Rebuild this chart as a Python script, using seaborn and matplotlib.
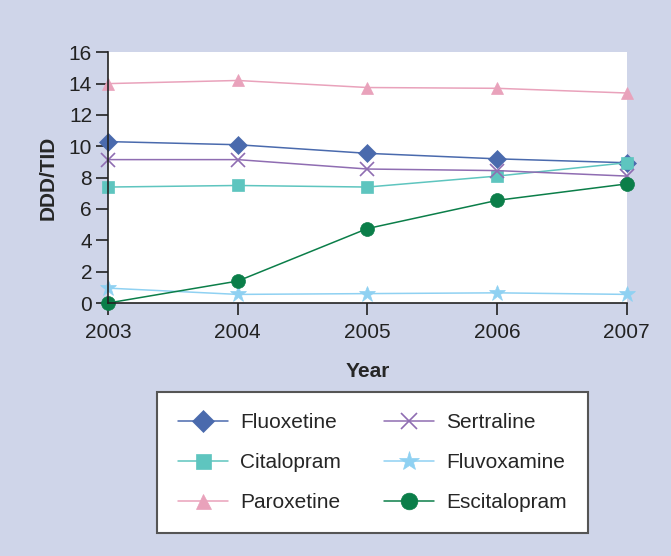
import pandas as pd
import seaborn as sns
import matplotlib
matplotlib.use('Agg')
import matplotlib.pyplot as plt

years = [2003, 2004, 2005, 2006, 2007]
fluoxetine = [10.3, 10.1, 9.55, 9.2, 8.95]
sertraline = [9.15, 9.15, 8.55, 8.45, 8.1]
citalopram = [7.4, 7.5, 7.4, 8.1, 8.95]
fluvoxamine = [0.95, 0.55, 0.6, 0.65, 0.55]
paroxetine = [14.0, 14.2, 13.75, 13.7, 13.4]
escitalopram = [0.0, 1.4, 4.75, 6.55, 7.6]

drugs = ['Fluoxetine', 'Citalopram', 'Paroxetine', 'Sertraline', 'Fluvoxamine', 'Escitalopram']
values = [fluoxetine, citalopram, paroxetine, sertraline, fluvoxamine, escitalopram]
colors = ['#4a6aad', '#5ec5bf', '#e9a2bb', '#8f6db2', '#8fd1f2', '#0b7e49']
markers = ['D', 's', '^', 'x', '*', 'o']
sizes = [9, 9, 9, 10, 12, 10]

sns.set_style('white')
plt.rcParams['font.family'] = ['Liberation Sans', 'DejaVu Sans']

fig = plt.figure(figsize=(6.71, 5.56), dpi=100)
fig.patch.set_facecolor('#cfd5e9')
ax = fig.add_axes([0.161, 0.455, 0.773, 0.451])
ax.set_facecolor('white')

for name, vals, col, mk, ms in zip(drugs, values, colors, markers, sizes):
    df = pd.DataFrame({'Year': years, 'DDD/TID': vals})
    sns.lineplot(data=df, x='Year', y='DDD/TID', ax=ax, color=col, marker=mk,
                 markersize=ms, markeredgecolor=col, markeredgewidth=1.2 if mk == 'x' else 0.5,
                 linewidth=1.1, label=name, clip_on=False, legend=False)

ax.set_xlim(2003, 2007)
ax.set_ylim(0, 16)
ax.set_xticks(years)
ax.set_yticks(range(0, 17, 2))
ax.tick_params(axis='both', direction='out', length=8.5, width=1.2, color='#222222',
               labelsize=15, colors='#222222', bottom=True, left=True, pad=3)
ax.tick_params(axis='x', pad=6)
for side in ['top', 'right']:
    ax.spines[side].set_visible(False)
for side in ['left', 'bottom']:
    ax.spines[side].set_color('#222222')
    ax.spines[side].set_linewidth(1.2)
ax.set_xlabel('Year', fontsize=15, fontweight='bold', labelpad=14)
ax.set_ylabel('DDD/TID', fontsize=15, fontweight='bold', labelpad=8)

handles, labels = ax.get_legend_handles_labels()
leg = fig.legend(handles, labels, ncol=2, loc='upper left',
                 bbox_to_anchor=(0.234, 0.043, 0.642, 0.252), mode='expand',
                 borderaxespad=0, fontsize=15, frameon=True, fancybox=False,
                 handlelength=2.4, labelspacing=1.02, columnspacing=1.7,
                 borderpad=1.0, handletextpad=0.6, markerscale=1.2)
leg.get_frame().set_edgecolor('#555555')
leg.get_frame().set_linewidth(1.5)
leg.get_frame().set_facecolor('white')
leg.get_frame().set_alpha(1)

fig.savefig('out.png', dpi=100, facecolor=fig.get_facecolor())
